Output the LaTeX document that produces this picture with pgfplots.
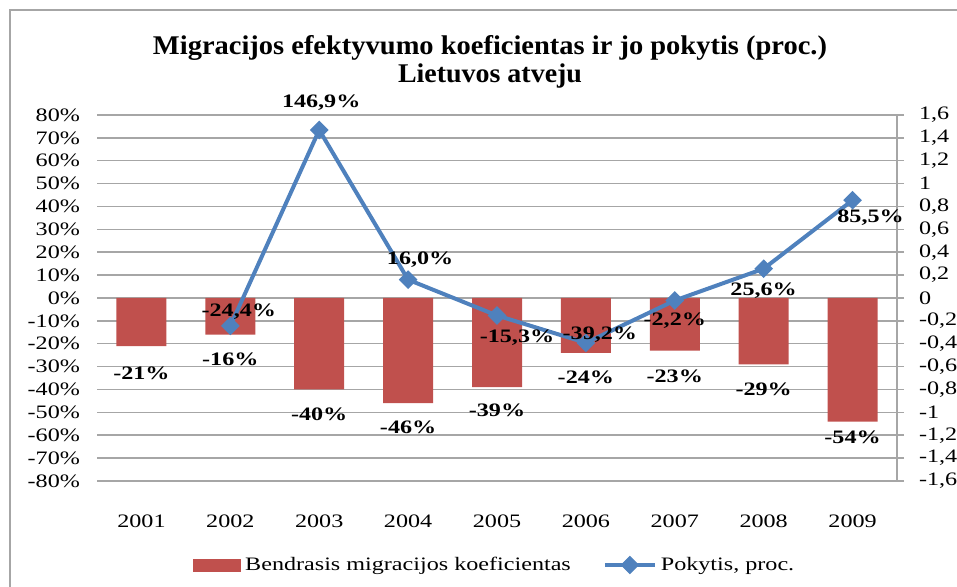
\documentclass[border=0pt]{standalone}
\usepackage{pgfplots}
\pgfplotsset{compat=1.18}
\usepackage{fontspec}
\setmainfont{Liberation Serif}
\definecolor{barred}{HTML}{C0504D}
\definecolor{lineblue}{HTML}{4F81BD}
\definecolor{gridgray}{HTML}{A6A6A6}
\newcommand\sx[1]{\scalebox{1.27}[1]{#1}}
\pgfplotsset{mylineleg/.style={legend image code/.code={\draw[mark repeat=2,mark phase=2,##1] plot coordinates {(0pt,0pt) (12.5pt,0pt) (25pt,0pt)};}}}
\begin{document}
\begin{tikzpicture}[x=0.5pt,y=0.5pt]
\useasboundingbox (0,0) rectangle (957,587);
\clip (0,0) rectangle (957,587);
\draw[gridgray, line width=0.9pt] (10,-20) -- (10,577) -- (1000,577);
\node[font=\bfseries\fontsize{13.5}{14}\selectfont, inner sep=0pt, anchor=base] at (490,532) {\resizebox{337pt}{\height}{Migracijos efektyvumo koeficientas ir jo pokytis (proc.)}};
\node[font=\bfseries\fontsize{13.5}{14}\selectfont, inner sep=0pt, anchor=base] at (490,504) {\resizebox{92pt}{\height}{Lietuvos atveju}};
\begin{axis}[
  at={(48.5pt,53pt)}, anchor=south west, scale only axis,
  width=400pt, height=183pt,
  xmin=0.5, xmax=9.5, ymin=-80, ymax=80,
  ytick={-80,-70,...,80},
  xtick={1,...,9}, xticklabels={\sx{2001},\sx{2002},\sx{2003},\sx{2004},\sx{2005},\sx{2006},\sx{2007},\sx{2008},\sx{2009}},
  axis line style={draw=none}, tick style={draw=none},
  ymajorgrids, grid style={gridgray, line width=0.75pt},
  /pgf/number format/assume math mode=true,
  tick label style={font=\fontsize{9.5}{10}\selectfont},
  yticklabel={\sx{\pgfmathprintnumber{\tick}\%}},
  yticklabel style={xshift=-5pt},
  xticklabel style={yshift=-9pt},
  ybar, bar width=25pt,
]
\addplot[fill=barred, draw=none,
  nodes near coords={\sx{\pgfmathprintnumber{\pgfplotspointmeta}\%}},
  point meta=y,
  visualization depends on={\thisrow{off}\as\off},
  nodes near coords style={anchor=center, yshift=-\off pt, font=\bfseries\fontsize{9.5}{10}\selectfont},
] table[x=x, y=y] {
x y off
1 -21 13.5
2 -16 12.5
3 -40 12.5
4 -46 12
5 -39 11.5
6 -24 12
7 -23 13
8 -29 12.5
9 -54 8
};
\end{axis}
\begin{axis}[
  at={(48.5pt,53pt)}, anchor=south west, scale only axis,
  width=400pt, height=183pt,
  xmin=0.5, xmax=9.5, ymin=-1.6, ymax=1.6,
  axis x line=none, axis y line*=right,
  axis line style={gridgray, line width=0.75pt},
  ytick={-1.6,-1.4,-1.2,-1,-0.8,-0.6,-0.4,-0.2,0,0.2,0.4,0.6,0.8,1,1.2,1.4,1.6},
  ytick align=outside, major tick length=3.5pt, tick style={gridgray, line width=0.75pt},
  /pgf/number format/assume math mode=true,
  tick label style={font=\fontsize{9.5}{10}\selectfont},
  yticklabel={\sx{\pgfmathprintnumber[fixed,precision=1,use comma]{\tick}}},
  yticklabel style={xshift=4pt},
  legend style={draw=none, fill=none, at={(0.12,-0.2295)}, anchor=west, inner xsep=0pt,
    legend columns=2, font=\fontsize{9.5}{10}\selectfont,
    /tikz/every even column/.append style={column sep=14pt}},
]
\addlegendimage{legend image code/.code={\fill[barred] (0pt,-3pt) rectangle (23.5pt,3pt);}}
\addlegendentry{\sx{Bendrasis migracijos koeficientas}}
\addplot[lineblue, line width=2pt, mark=square*, mark size=3pt,
  mark options={rotate=45, fill=lineblue, line width=0.6pt},
  mylineleg,
  nodes near coords={\sx{\pgfplotspointmeta\%}}, point meta=explicit symbolic,
  visualization depends on={\thisrow{dx}\as\dx},
  visualization depends on={\thisrow{dy}\as\dy},
  nodes near coords style={anchor=center, xshift=\dx pt, yshift=\dy pt, text=black, font=\bfseries\fontsize{9.5}{10}\selectfont},
] table[x=x, y=y, meta=lbl] {
x y lbl dx dy
2 -0.244 -24,4 4.25 7
3 1.469 146,9 1 13.5
4 0.160 16,0 6 10
5 -0.153 -15,3 10 -11
6 -0.392 -39,2 7 4
7 -0.022 -2,2 0 -10
8 0.256 25,6 0 -11
9 0.855 85,5 9 -8.5
};
\addlegendentry{\sx{Pokytis, proc.}}
\end{axis}
\end{tikzpicture}
\end{document}
